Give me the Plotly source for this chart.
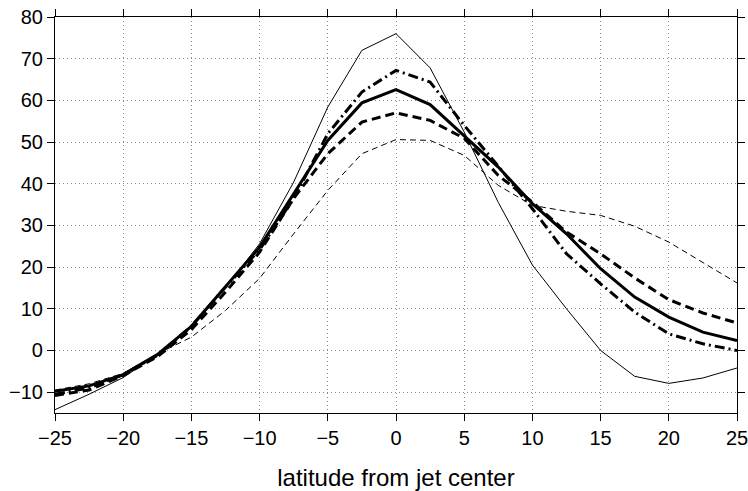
import plotly.graph_objects as go

# ── DATA ────────────────────────────────────────────────────────────────
lat = [-25, -22.5, -20, -17.5, -15, -12.5, -10, -7.5, -5, -2.5, 0,
       2.5, 5, 7.5, 10, 12.5, 15, 17.5, 20, 22.5, 25]

thin_solid = [-14.2, -10.5, -6.5, -1.0, 5.5, 15.0, 25.6, 40.4, 58.4, 72.0, 76.0,
              67.8, 52.4, 35.5, 20.5, 10.0, 0.0, -6.2, -7.9, -6.6, -4.2]
thick_solid = [-9.8, -8.5, -5.8, -1.0, 5.8, 15.3, 24.8, 37.6, 50.4, 59.4, 62.6,
               59.0, 51.6, 44.0, 35.2, 28.0, 19.6, 12.8, 8.0, 4.4, 2.4]
thick_dashdot = [-10.5, -9.0, -5.8, -1.2, 5.8, 15.2, 24.2, 36.5, 52.0, 62.0, 67.2,
                 64.4, 54.0, 44.2, 34.0, 23.2, 16.0, 9.2, 4.0, 1.6, 0.0]
thick_dashed = [-10.8, -9.5, -6.0, -1.5, 5.0, 14.0, 23.6, 36.5, 47.2, 54.8, 57.0,
                55.2, 50.9, 42.0, 35.6, 28.4, 23.2, 17.4, 12.2, 9.0, 6.6]
thin_dashed = [-9.5, -8.0, -5.5, -0.8, 3.2, 9.6, 17.3, 28.0, 38.4, 47.2, 50.6,
               50.4, 46.8, 39.6, 34.8, 33.4, 32.4, 29.8, 26.0, 21.2, 16.2]

x_ticks = [-25, -20, -15, -10, -5, 0, 5, 10, 15, 20, 25]
y_ticks = [-10, 0, 10, 20, 30, 40, 50, 60, 70, 80]

# ── FIGURE ──────────────────────────────────────────────────────────────
series = [
    (thin_dashed, 1, '6px,4px'),
    (thin_solid, 1, 'solid'),
    (thick_dashed, 3, '9px,5px'),
    (thick_dashdot, 3, '10px,4px,2px,4px'),
    (thick_solid, 3, 'solid'),
]

fig = go.Figure()
for ys, w, dash in series:
    fig.add_trace(go.Scatter(x=lat, y=ys, mode='lines',
                             line=dict(color='black', width=w, dash=dash),
                             showlegend=False))

font = dict(family='Liberation Sans, Arial, Helvetica, sans-serif',
            size=20, color='black')
title_font = dict(font, size=24)

axis_common = dict(
    showline=True, linecolor='black', linewidth=1.2, mirror='ticks',
    ticks='outside', ticklen=7, tickcolor='black', tickwidth=1,
    showgrid=True, gridcolor='#8a8a8a', gridwidth=1, griddash='1px,3px',
    zeroline=False, tickfont=font, automargin=False,
    ticklabeloverflow='allow',
)

fig.update_xaxes(range=[-25, 25], tickvals=x_ticks,
                 title=dict(text='latitude from jet center', font=title_font, standoff=27),
                 **axis_common)
fig.update_yaxes(range=[-15, 80], tickvals=y_ticks, **axis_common)

fig.update_layout(
    width=748, height=491,
    margin=dict(l=55, r=11, t=17, b=78),
    plot_bgcolor='white', paper_bgcolor='white',
    font=font,
)

# drop the default page margin so the figure fills the window exactly
fig.write_html("out.html",
               config={'displayModeBar': False},
               post_script="document.body.style.margin='0';document.body.style.overflow='hidden';")
